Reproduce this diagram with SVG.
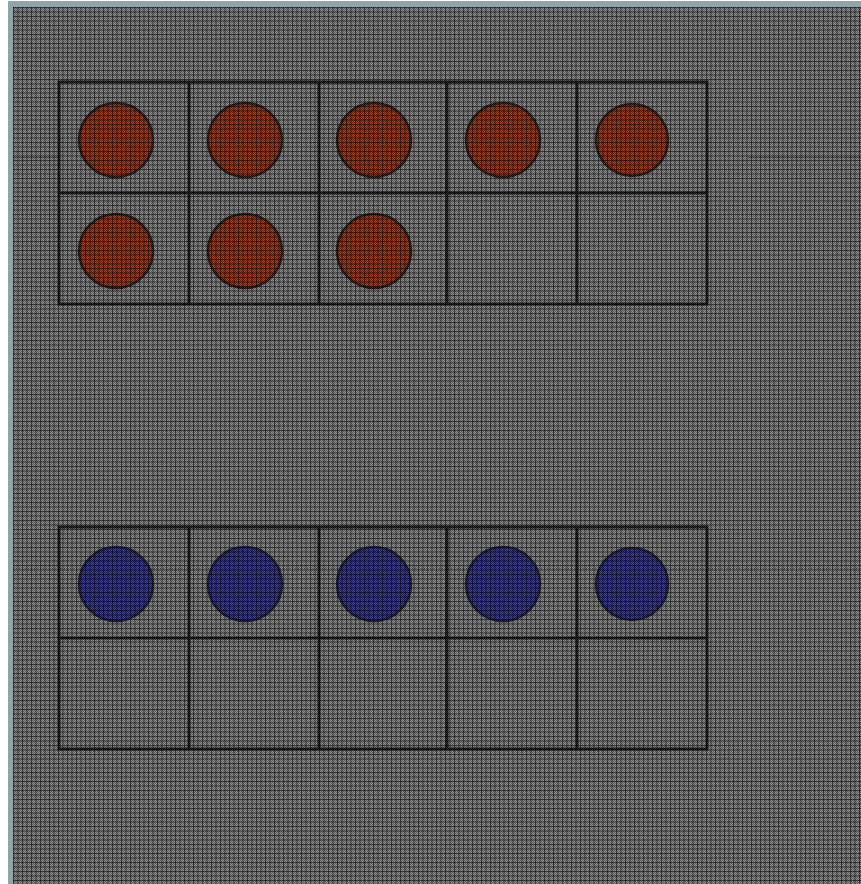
<svg xmlns="http://www.w3.org/2000/svg" width="861" height="884" viewBox="0 0 861 884">
<defs>
<pattern id="checker" width="2" height="2" patternUnits="userSpaceOnUse">
<rect x="0" y="0" width="1" height="1" fill="#000" fill-opacity="0.28"/>
<rect x="1" y="1" width="1" height="1" fill="#000" fill-opacity="0.28"/>
<rect x="1" y="0" width="1" height="1" fill="#fff" fill-opacity="0.18"/>
<rect x="0" y="1" width="1" height="1" fill="#fff" fill-opacity="0.18"/>
</pattern>
<pattern id="grid" x="13" y="7" width="4.5" height="4.5" patternUnits="userSpaceOnUse">
<rect x="0" y="0" width="4.5" height="1" fill="#000" fill-opacity="0.55"/>
<rect x="0" y="0" width="1" height="4.5" fill="#000" fill-opacity="0.55"/>
</pattern>
</defs>
<style>
.frame{fill:none;stroke:#0a0a0a;stroke-width:3}
.red{fill:#9a2400;stroke:#1e0a05;stroke-width:2.5}
.blue{fill:#22228e;stroke:#0c0c30;stroke-width:2.5}
</style>
<rect x="0" y="0" width="861" height="884" fill="#ffffff"/>
<rect x="8" y="1" width="853" height="883" fill="#8fa5a8"/>
<rect x="13" y="7" width="848" height="877" fill="#7e7e7e"/>
<line x1="13" y1="157.5" x2="59" y2="157.5" stroke="#222" stroke-width="1" opacity="0.6"/>
<line x1="748" y1="157.5" x2="861" y2="157.5" stroke="#222" stroke-width="1" opacity="0.6"/>
<line x1="13" y1="568.5" x2="861" y2="568.5" stroke="#222" stroke-width="1" stroke-dasharray="1 2" opacity="0.6"/>
<g id="top-frame">
<rect class="frame" x="59" y="82" width="648" height="222"/>
<line class="frame" x1="59" y1="193" x2="707" y2="193"/>
<line class="frame" x1="189" y1="82" x2="189" y2="304"/>
<line class="frame" x1="319" y1="82" x2="319" y2="304"/>
<line class="frame" x1="447" y1="82" x2="447" y2="304"/>
<line class="frame" x1="577" y1="82" x2="577" y2="304"/>
</g>
<g id="red-counters">
<circle class="red" cx="116" cy="140" r="37"/>
<circle class="red" cx="245" cy="140" r="37"/>
<circle class="red" cx="374" cy="140" r="37"/>
<circle class="red" cx="503" cy="140" r="37"/>
<circle class="red" cx="632" cy="140" r="36"/>
<circle class="red" cx="116" cy="251" r="37"/>
<circle class="red" cx="245" cy="251" r="37"/>
<circle class="red" cx="374" cy="251" r="37"/>
</g>
<g id="bottom-frame">
<rect class="frame" x="59" y="527" width="648" height="222"/>
<line class="frame" x1="59" y1="638" x2="707" y2="638"/>
<line class="frame" x1="189" y1="527" x2="189" y2="749"/>
<line class="frame" x1="319" y1="527" x2="319" y2="749"/>
<line class="frame" x1="447" y1="527" x2="447" y2="749"/>
<line class="frame" x1="577" y1="527" x2="577" y2="749"/>
</g>
<g id="blue-counters">
<circle class="blue" cx="116" cy="584" r="37"/>
<circle class="blue" cx="245" cy="584" r="37"/>
<circle class="blue" cx="374" cy="584" r="37"/>
<circle class="blue" cx="503" cy="584" r="37"/>
<circle class="blue" cx="632" cy="584" r="36"/>
</g>
<g id="overlay">
<rect x="13" y="7" width="848" height="877" fill="url(#checker)"/>
<rect x="13" y="7" width="848" height="877" fill="url(#grid)"/>
</g>
</svg>
